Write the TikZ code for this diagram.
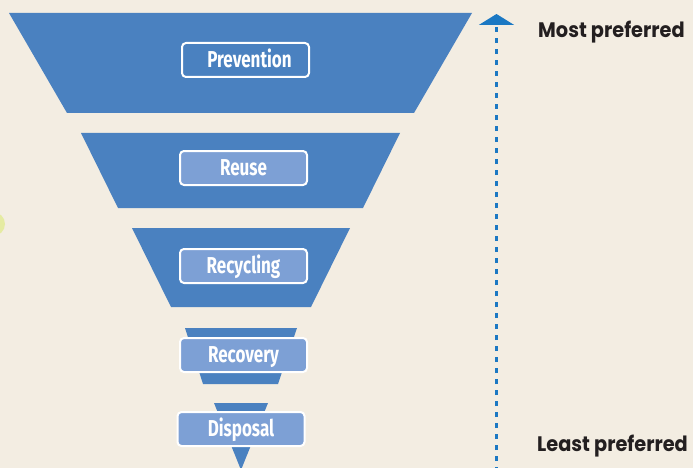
\documentclass[tikz,border=0pt]{standalone}
\usepackage{fontspec}
\newfontfamily\labfont{Fira Sans}[FakeStretch=0.74]
\newfontfamily\prefont{Poppins}[FakeStretch=0.92]
\usetikzlibrary{arrows.meta}
\definecolor{bg}{HTML}{F3EDE2}
\definecolor{funnel}{HTML}{4A81C0}
\definecolor{boxlight}{HTML}{7DA0D5}
\definecolor{arrowblue}{HTML}{1B78C3}
\definecolor{txt}{HTML}{231F20}
\definecolor{dotyellow}{HTML}{E5EBA2}
\tikzset{
  funnelpart/.style={fill=funnel, draw=none},
  stagebox/.style={draw=white, line width=2pt, rounded corners=4pt,
    minimum width=127pt, minimum height=34pt, inner sep=0pt,
    text=white, font=\labfont\bfseries\fontsize{23}{25}\selectfont,
    text height=15.5pt, text depth=0pt},
  lightbox/.style={stagebox, fill=boxlight},
  darkbox/.style={stagebox, fill=funnel},
  preflabel/.style={anchor=base west, inner sep=0pt, text=txt,
    font=\prefont\bfseries\fontsize{21}{24}\selectfont},
  scale line/.style={arrowblue, line width=2.5pt, dash pattern=on 5pt off 6pt,
    -{Triangle[width=35pt,length=11pt]}}
}
\begin{document}
\begin{tikzpicture}[x=1pt,y=-1pt]
\fill[bg] (0,0) rectangle (693,468);
\useasboundingbox (0,0) rectangle (693,468);
\begin{scope}
\clip (0,0) rectangle (693,468);
\fill[dotyellow] (-7,224) circle (12);
% funnel pieces
\fill[funnelpart] (9,13) -- (472,13) -- (414,113) -- (67,113) -- cycle;
\fill[funnelpart] (81,133) -- (400,133) -- (363,208) -- (118,208) -- cycle;
\fill[funnelpart] (132,228) -- (350,228) -- (311,307) -- (171,307) -- cycle;
\fill[funnelpart] (185,328) -- (297,328) -- (278,384) -- (203,384) -- cycle;
\fill[funnelpart] (214,403) -- (268,403) -- (241,470) -- cycle;
% stage boxes
\node[darkbox]  (prevention) at (245.5,60)  {\hspace*{8pt}Prevention};
\node[lightbox] (reuse)      at (243.5,168) {Reuse};
\node[lightbox] (recycling)  at (243.5,266) {Recycling};
\node[lightbox] (recovery)   at (243.5,355) {Recovery};
\node[lightbox] (disposal)   at (241,429)   {Disposal};
% preference scale
\coordinate (scalebottom) at (496.5,472);
\coordinate (scaletop) at (496.5,14);
\draw[scale line] (scalebottom) -- (scaletop);
\end{scope}
\node[preflabel] (most)  at (538,37.5) {Most preferred};
\node[preflabel] (least) at (537,451)  {Least preferred};
\end{tikzpicture}
\end{document}
